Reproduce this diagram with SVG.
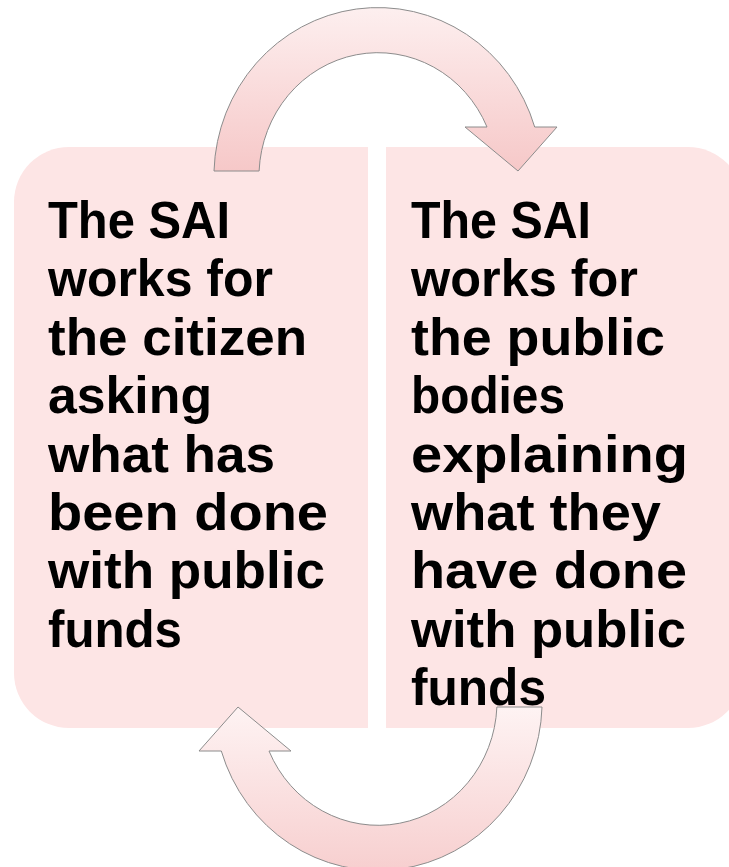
<svg xmlns="http://www.w3.org/2000/svg" width="729" height="867" viewBox="0 0 729 867">
  <defs>
    <!-- arrow fill: pale at the top, pinker towards the bottom -->
    <linearGradient id="arrowDown" x1="0" y1="0" x2="0" y2="1">
      <stop offset="0" stop-color="#fdefef"/>
      <stop offset="1" stop-color="#f6c8c8"/>
    </linearGradient>
    <!-- same look for the rotated arrow (stops reversed so it still darkens downwards) -->
    <linearGradient id="arrowUp" x1="0" y1="0" x2="0" y2="1">
      <stop offset="0" stop-color="#f7cfcf"/>
      <stop offset="1" stop-color="#fef3f3"/>
    </linearGradient>
    <path id="curvedArrow" d="M214,171 A164 169 0 0 1 534.7,127 L557,127 L518,171 L465,127 L487,127 A119 124 0 0 0 259.1,171 Z"/>
  </defs>
  <style>
    .box { fill: #fde5e5; }
    .arrow { stroke: #8c8c8c; stroke-width: 1; }
    .label { font-family: "Liberation Sans", Arial, sans-serif; font-weight: bold; font-size: 52px; fill: #000; }
  </style>

  <rect width="729" height="867" fill="#ffffff"/>

  <!-- left panel -->
  <g id="citizen-box">
    <path class="box" d="M69,147 H368 V728 H69 A55 55 0 0 1 14,673 V202 A55 55 0 0 1 69,147 Z"/>
  </g>

  <!-- right panel -->
  <g id="public-bodies-box">
    <path class="box" d="M386,147 H688 A55 55 0 0 1 743,202 V673 A55 55 0 0 1 688,728 H386 Z"/>
  </g>

  <!-- cycle arrows -->
  <g id="connectors">
    <use href="#curvedArrow" class="arrow" fill="url(#arrowDown)"/>
    <g transform="rotate(180 378 439)">
      <use href="#curvedArrow" class="arrow" fill="url(#arrowUp)"/>
    </g>
  </g>

  <!-- panel texts -->
  <g id="citizen-text" class="label">
    <text x="48" y="238" textLength="182" lengthAdjust="spacingAndGlyphs">The SAI</text>
    <text x="48" y="296.4" textLength="225" lengthAdjust="spacingAndGlyphs">works for</text>
    <text x="48" y="354.8" textLength="259" lengthAdjust="spacingAndGlyphs">the citizen</text>
    <text x="48" y="413.2" textLength="164" lengthAdjust="spacingAndGlyphs">asking</text>
    <text x="48" y="471.6" textLength="227" lengthAdjust="spacingAndGlyphs">what has</text>
    <text x="48" y="530" textLength="280" lengthAdjust="spacingAndGlyphs">been done</text>
    <text x="48" y="588.4" textLength="277" lengthAdjust="spacingAndGlyphs">with public</text>
    <text x="48" y="646.8" textLength="134" lengthAdjust="spacingAndGlyphs">funds</text>
  </g>
  <g id="public-bodies-text" class="label">
    <text x="411" y="238" textLength="180" lengthAdjust="spacingAndGlyphs">The SAI</text>
    <text x="411" y="296.4" textLength="227" lengthAdjust="spacingAndGlyphs">works for</text>
    <text x="411" y="354.8" textLength="254" lengthAdjust="spacingAndGlyphs">the public</text>
    <text x="411" y="413.2" textLength="154" lengthAdjust="spacingAndGlyphs">bodies</text>
    <text x="411" y="471.6" textLength="277" lengthAdjust="spacingAndGlyphs">explaining</text>
    <text x="411" y="530" textLength="250" lengthAdjust="spacingAndGlyphs">what they</text>
    <text x="411" y="588.4" textLength="276" lengthAdjust="spacingAndGlyphs">have done</text>
    <text x="411" y="646.8" textLength="275" lengthAdjust="spacingAndGlyphs">with public</text>
    <text x="411" y="705.2" textLength="135" lengthAdjust="spacingAndGlyphs">funds</text>
  </g>
</svg>
